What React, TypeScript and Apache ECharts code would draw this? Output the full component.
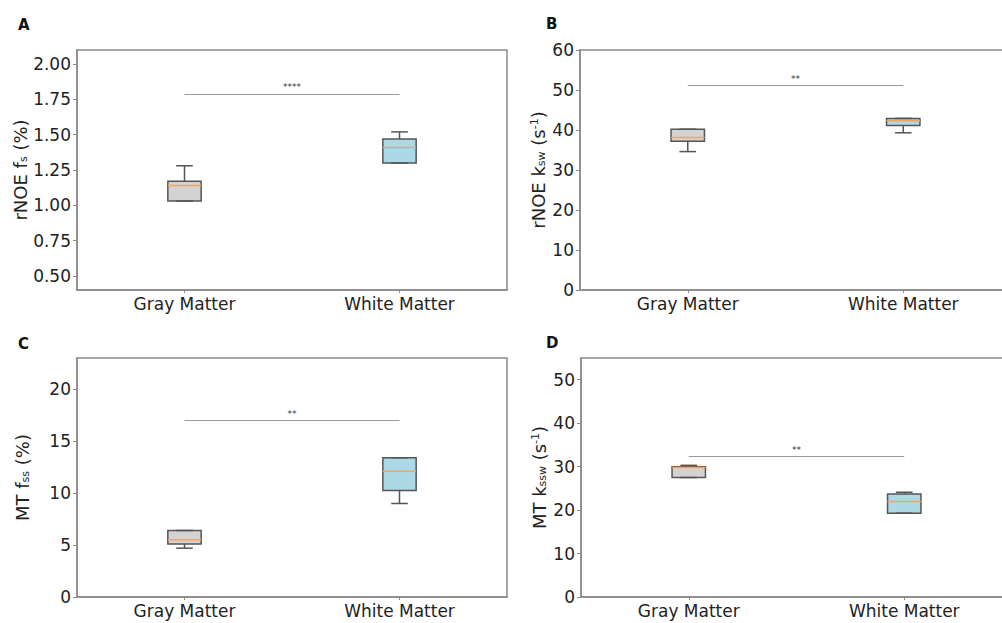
import React, { useEffect, useRef } from "react";
import * as echarts from "echarts";

const categories = ["Gray Matter", "White Matter"];

// [min, Q1, median, Q3, max] per category
const boxA = [
  [1.03, 1.03, 1.14, 1.17, 1.28],
  [1.3, 1.3, 1.41, 1.47, 1.52],
];
const boxB = [
  [34.6, 37.2, 38.1, 40.2, 40.2],
  [39.3, 41.1, 42.3, 42.9, 42.9],
];
const boxC = [
  [4.7, 5.1, 5.5, 6.4, 6.4],
  [9.0, 10.25, 12.1, 13.4, 13.4],
];
const boxD = [
  [27.5, 27.5, 29.8, 30.0, 30.3],
  [19.3, 19.3, 22.0, 23.7, 24.1],
];

const sigLevels = [1.79, 51.1, 17.0, 32.3];
const sigLabels = ["****", "**", "**", "**"];

const yTicksA = [0.5, 0.75, 1.0, 1.25, 1.5, 1.75, 2.0];
const yTicksB = [0, 10, 20, 30, 40, 50, 60];
const yTicksC = [0, 5, 10, 15, 20];
const yTicksD = [0, 10, 20, 30, 40, 50];

const yRanges = [
  [0.4, 2.1],
  [0, 60],
  [0, 23],
  [0, 55],
];

const yNames = [
  "rNOE f{sub|s} (%)",
  "rNOE k{sub|sw} (s{sup|-1})",
  "MT f{sub|ss} (%)",
  "MT k{sub|ssw} (s{sup|-1})",
];
const panelLetters = ["A", "B", "C", "D"];

const FONT = "DejaVu Sans";
const boxFills = ["#d3d3d3", "#add8e6"];

export default function App() {
  const ref = useRef<HTMLDivElement>(null);

  useEffect(() => {
    if (!ref.current) return;
    const chart = echarts.init(ref.current, null, { renderer: "svg" });

    const boxes = [boxA, boxB, boxC, boxD];
    const ticks = [yTicksA, yTicksB, yTicksC, yTicksD];
    const grids = [
      { left: 77, top: 50, width: 430, height: 240 },
      { left: 580, top: 50, width: 431, height: 240 },
      { left: 77, top: 358, width: 430, height: 239 },
      { left: 581, top: 358, width: 431, height: 239 },
    ];
    const nameGaps = [46, 33, 46, 33];
    const letterPos = [
      { left: 13, top: 12 },
      { left: 541, top: 11 },
      { left: 13, top: 331 },
      { left: 541, top: 330 },
    ];

    const renderBox = (params: any, api: any) => {
      const x = api.value(0);
      const lo = api.coord([x, api.value(1)]);
      const q1 = api.coord([x, api.value(2)]);
      const med = api.coord([x, api.value(3)]);
      const q3 = api.coord([x, api.value(4)]);
      const hi = api.coord([x, api.value(5)]);
      const band = api.size([1, 0])[0];
      const w = band * 0.155;
      const cap = w / 2;
      const cx = lo[0];
      const stroke = "#555555";
      const lw = 1.5;
      return {
        type: "group",
        children: [
          {
            type: "line",
            shape: { x1: cx, y1: q3[1], x2: cx, y2: hi[1] },
            style: { stroke, lineWidth: lw },
          },
          {
            type: "line",
            shape: { x1: cx, y1: q1[1], x2: cx, y2: lo[1] },
            style: { stroke, lineWidth: lw },
          },
          {
            type: "rect",
            shape: { x: cx - w / 2, y: q3[1], width: w, height: q1[1] - q3[1] },
            style: { fill: boxFills[params.dataIndex], stroke, lineWidth: lw },
          },
          {
            type: "line",
            shape: { x1: cx - w / 2, y1: med[1], x2: cx + w / 2, y2: med[1] },
            style: { stroke: "#f5a262", lineWidth: 1.5 },
          },
          {
            type: "line",
            shape: { x1: cx - cap / 2, y1: hi[1], x2: cx + cap / 2, y2: hi[1] },
            style: { stroke, lineWidth: lw },
          },
          {
            type: "line",
            shape: { x1: cx - cap / 2, y1: lo[1], x2: cx + cap / 2, y2: lo[1] },
            style: { stroke, lineWidth: lw },
          },
        ],
      };
    };

    const option: any = {
      animation: false,
      backgroundColor: "#ffffff",
      title: panelLetters.map((t, i) => ({
        text: t,
        left: letterPos[i].left,
        top: letterPos[i].top,
        textStyle: { fontFamily: FONT, fontSize: 15, fontWeight: "bold", color: "#111" },
      })),
      grid: grids.map((g) => ({
        ...g,
        show: true,
        borderColor: "#8a8a8a",
        borderWidth: 1.5,
        backgroundColor: "transparent",
      })),
      xAxis: grids.map((_, i) => ({
        type: "category",
        gridIndex: i,
        data: categories,
        boundaryGap: true,
        axisLine: { show: true, lineStyle: { color: "#8a8a8a", width: 1.5 } },
        axisTick: { show: true, alignWithLabel: true, length: 3, lineStyle: { color: "#8a8a8a" } },
        axisLabel: { fontFamily: FONT, fontSize: 17, color: "#222", margin: 5 },
        splitLine: { show: false },
      })),
      yAxis: grids.map((_, i) => ({
        type: "value",
        gridIndex: i,
        min: yRanges[i][0],
        max: yRanges[i][1],
        name: yNames[i],
        nameLocation: "middle",
        nameRotate: 90,
        nameGap: nameGaps[i],
        nameTextStyle: {
          fontFamily: FONT,
          fontSize: 18,
          color: "#222",
          rich: {
            sub: { fontFamily: FONT, fontSize: 11, color: "#222", verticalAlign: "bottom" },
            sup: { fontFamily: FONT, fontSize: 11, color: "#222", verticalAlign: "top" },
          },
        },
        axisLine: { show: true, lineStyle: { color: "#8a8a8a", width: 1.5 } },
        axisTick: {
          show: true,
          length: 4,
          customValues: ticks[i],
          lineStyle: { color: "#8a8a8a" },
        },
        axisLabel: {
          fontFamily: FONT,
          fontSize: 17,
          color: "#222",
          margin: 6,
          customValues: ticks[i],
          formatter: (v: number) => (i === 0 ? v.toFixed(2) : String(v)),
        },
        splitLine: { show: false },
      })),
      series: [
        ...boxes.map((b, i) => ({
          type: "custom",
          xAxisIndex: i,
          yAxisIndex: i,
          renderItem: renderBox,
          encode: { x: 0, y: [1, 2, 3, 4, 5] },
          data: b.map((row, k) => [k, ...row]),
          silent: true,
        })),
        ...sigLevels.map((s, i) => ({
          type: "line",
          xAxisIndex: i,
          yAxisIndex: i,
          data: [s, s],
          symbol: "none",
          silent: true,
          lineStyle: { color: "#999999", width: 0, opacity: 0 },
          label: { show: false },
          markLine: {
            silent: true,
            symbol: "none",
            lineStyle: { color: "#9a9a9a", width: 1.2, type: "solid" },
            label: {
              show: true,
              position: "middle",
              formatter: sigLabels[i],
              fontFamily: FONT,
              fontSize: 9,
              color: "#333",
              distance: 2,
            },
            emphasis: { disabled: true },
            data: [[{ coord: [categories[0], s] }, { coord: [categories[1], s] }]],
          },
        })),
      ],
    };

    chart.setOption(option);
    return () => chart.dispose();
  }, []);

  return (
    <div
      style={{
        position: "fixed",
        left: 0,
        top: 0,
        width: 1002,
        height: 623,
        overflow: "hidden",
        background: "#fff",
      }}
    >
      <div ref={ref} style={{ width: 1020, height: 623 }} />
    </div>
  );
}
